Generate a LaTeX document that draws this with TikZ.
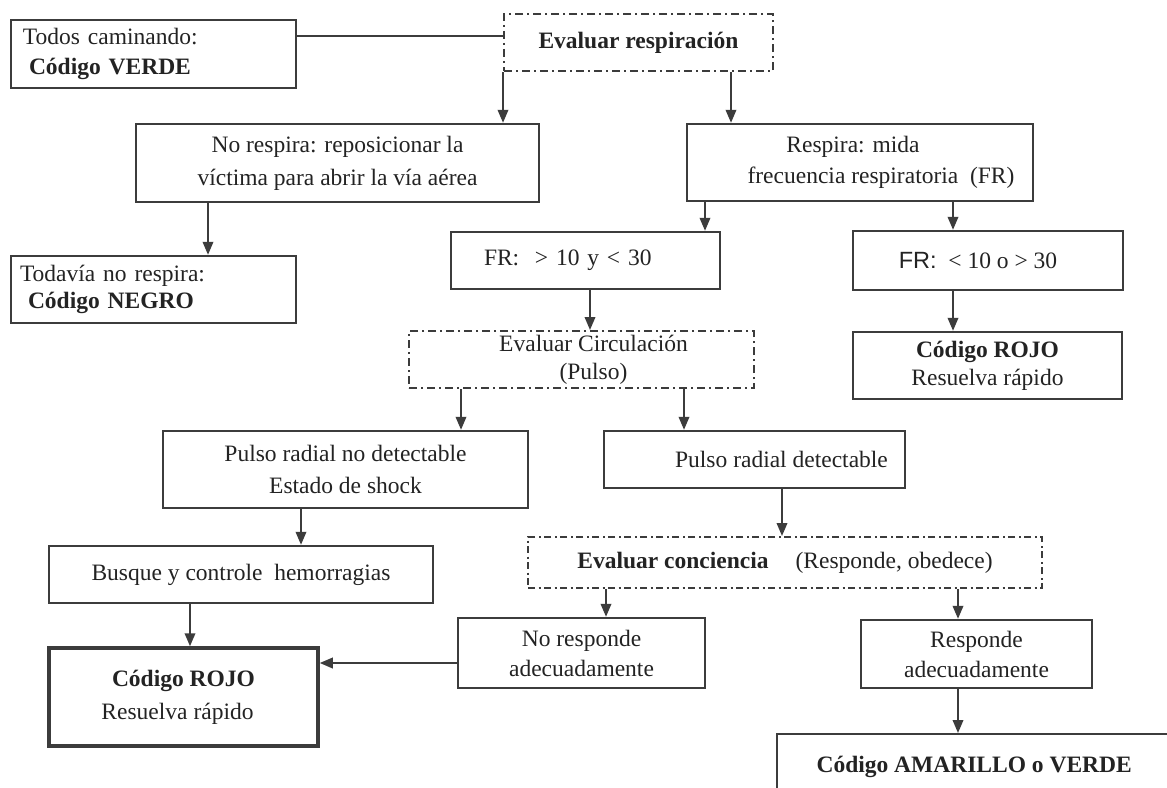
\documentclass[tikz,border=0pt]{standalone}
\usepackage{fontspec}
\setmainfont{Liberation Serif}
\newfontfamily\arialf{Liberation Sans}
\usetikzlibrary{arrows.meta,calc}
\definecolor{lncol}{HTML}{3C3C3C}
\definecolor{txcol}{HTML}{232323}
\begin{document}
\begin{tikzpicture}[x=1pt,y=-1pt,
  box/.style={draw=lncol,line width=2.4pt,inner sep=0pt,text=txcol,font=\fontsize{23.5pt}{30pt}\selectfont},
  dbox/.style={box,line width=2pt,dash pattern=on 8pt off 4pt on 2pt off 4pt},
  arr/.style={draw=lncol,line width=2pt,-{Triangle[length=13pt,width=10.5pt]}},
  plainline/.style={draw=lncol,line width=2pt}]
\fill[white] (0,0) rectangle (1167,787);
\useasboundingbox (0,0) rectangle (1167,787);

% nodes
\node[box,minimum width=285pt,minimum height=68pt,text width=261pt,align=left] (tc) at (153.5,54) {Todos caminando:\\\hspace*{6pt}\textbf{Código VERDE}};
\node[dbox,minimum width=269pt,minimum height=57pt] (evr) at (638.5,42.5) {\textbf{Evaluar respiración}};
\node[box,minimum width=403pt,minimum height=78pt,align=center,font=\fontsize{23.5pt}{33pt}\selectfont] (nr) at (337.5,163) {No respira: reposicionar la\\víctima para abrir la vía aérea};
\node[box,minimum width=346pt,minimum height=77pt,align=center,font=\fontsize{23.5pt}{31pt}\selectfont] (resp) at (860,162.5) {Respira: mida\hspace*{14pt}\\\hspace*{42pt}frecuencia respiratoria\ \ (FR)};
\node[box,minimum width=285pt,minimum height=67pt,text width=267pt,align=left,font=\fontsize{23.5pt}{27pt}\selectfont] (ttnr) at (153.5,289.5) {Todavía no respira:\\\hspace*{8pt}\textbf{Código NEGRO}};
\node[box,minimum width=269pt,minimum height=57pt,text width=203pt,align=left] (fr1) at (585.5,260.5) {FR:\ \ > 10 y < 30};
\node[box,minimum width=270pt,minimum height=59pt,align=center] (fr2) at (988,260.5) {{\arialf FR:}\ \ < 10 o > 30\hspace*{20pt}};
\node[box,minimum width=269pt,minimum height=67pt,align=center,font=\fontsize{23.5pt}{28pt}\selectfont] (rojo2) at (987.5,365.5) {\textbf{Código ROJO}\\Resuelva rápido};
\node[dbox,minimum width=345pt,minimum height=57pt,align=center,font=\fontsize{23.5pt}{28pt}\selectfont] (evc) at (581.5,359.5) {\hspace*{24pt}Evaluar Circulación\\\hspace*{24pt}(Pulso)};
\node[box,minimum width=365pt,minimum height=77pt,align=center,font=\fontsize{23.5pt}{32pt}\selectfont] (pnd) at (345.5,469.5) {Pulso radial no detectable\\Estado de shock};
\node[box,minimum width=301pt,minimum height=57pt] (pd) at (754.5,459.5) {\hspace*{54pt}Pulso radial detectable};
\node[dbox,minimum width=514pt,minimum height=51pt,dash pattern=on 7pt off 3.5pt on 2pt off 3.5pt] (evcon) at (785,562.5) {\textbf{Evaluar conciencia}\hspace{27pt}(Responde, obedece)};
\node[box,minimum width=384pt,minimum height=57pt] (bus) at (241,574.5) {Busque y controle\ \ hemorragias};
\node[box,line width=3.5pt,minimum width=269pt,minimum height=98pt,align=center,font=\fontsize{23.5pt}{33pt}\selectfont] (rojo1) at (183.5,697) {\textbf{Código ROJO}\\Resuelva rápido\hspace*{12pt}};
\node[box,minimum width=247pt,minimum height=70pt,align=center] (nresp) at (581.5,653) {No responde\\adecuadamente};
\node[box,minimum width=231pt,minimum height=68pt,align=center] (resp2) at (976.5,654) {Responde\\adecuadamente};
\node[box,minimum width=394pt,minimum height=66pt,anchor=north west] (amar) at (776,733) {\textbf{Código AMARILLO o VERDE}};

% connectors
\coordinate (l1) at ($(tc.north east)!0.24!(tc.south east)$);
\draw[plainline] (l1) -- (l1 -| evr.west);
\draw[arr] (evr.south west) -- (evr.south west |- nr.north);
\coordinate (c2) at ([xshift=92.5pt]evr.south);
\draw[arr] (c2) -- (c2 |- resp.north);
\coordinate (c3) at ([xshift=-129.5pt]nr.south);
\draw[arr] (c3) -- (c3 |- ttnr.north);
\coordinate (c4) at ([xshift=-155pt]resp.south);
\draw[arr] (c4) -- (c4 |- fr1.north);
\coordinate (c5) at ([xshift=93pt]resp.south);
\draw[arr] (c5) -- (c5 |- fr2.north);
\coordinate (c6) at ([xshift=-35pt]fr2.south);
\draw[arr] (c6) -- (c6 |- rojo2.north);
\coordinate (c7) at ([xshift=4.5pt]fr1.south);
\draw[arr] (c7) -- (c7 |- evc.north);
\coordinate (c8) at ([xshift=-120.5pt]evc.south);
\draw[arr] (c8) -- (c8 |- pnd.north);
\coordinate (c9) at ([xshift=102.5pt]evc.south);
\draw[arr] (c9) -- (c9 |- pd.north);
\coordinate (c10) at ([xshift=-44.5pt]pnd.south);
\draw[arr] (c10) -- (c10 |- bus.north);
\coordinate (c11) at ([xshift=-51pt]bus.south);
\draw[arr] (c11) -- (c11 |- rojo1.north);
\coordinate (c12) at ([xshift=-3pt]evcon.north);
\draw[arr] (c12 |- pd.south) -- (c12);
\coordinate (c13) at ([xshift=-179pt]evcon.south);
\draw[arr] (c13) -- (c13 |- nresp.north);
\coordinate (c14) at ([xshift=173pt]evcon.south);
\draw[arr] (c14) -- (c14 |- resp2.north);
\coordinate (c15) at ([xshift=-18.5pt]resp2.south);
\draw[arr] (c15) -- (c15 |- amar.north);
\coordinate (c16) at ([yshift=-10pt]nresp.west);
\draw[arr] (c16) -- (c16 -| rojo1.east);
\end{tikzpicture}
\end{document}
